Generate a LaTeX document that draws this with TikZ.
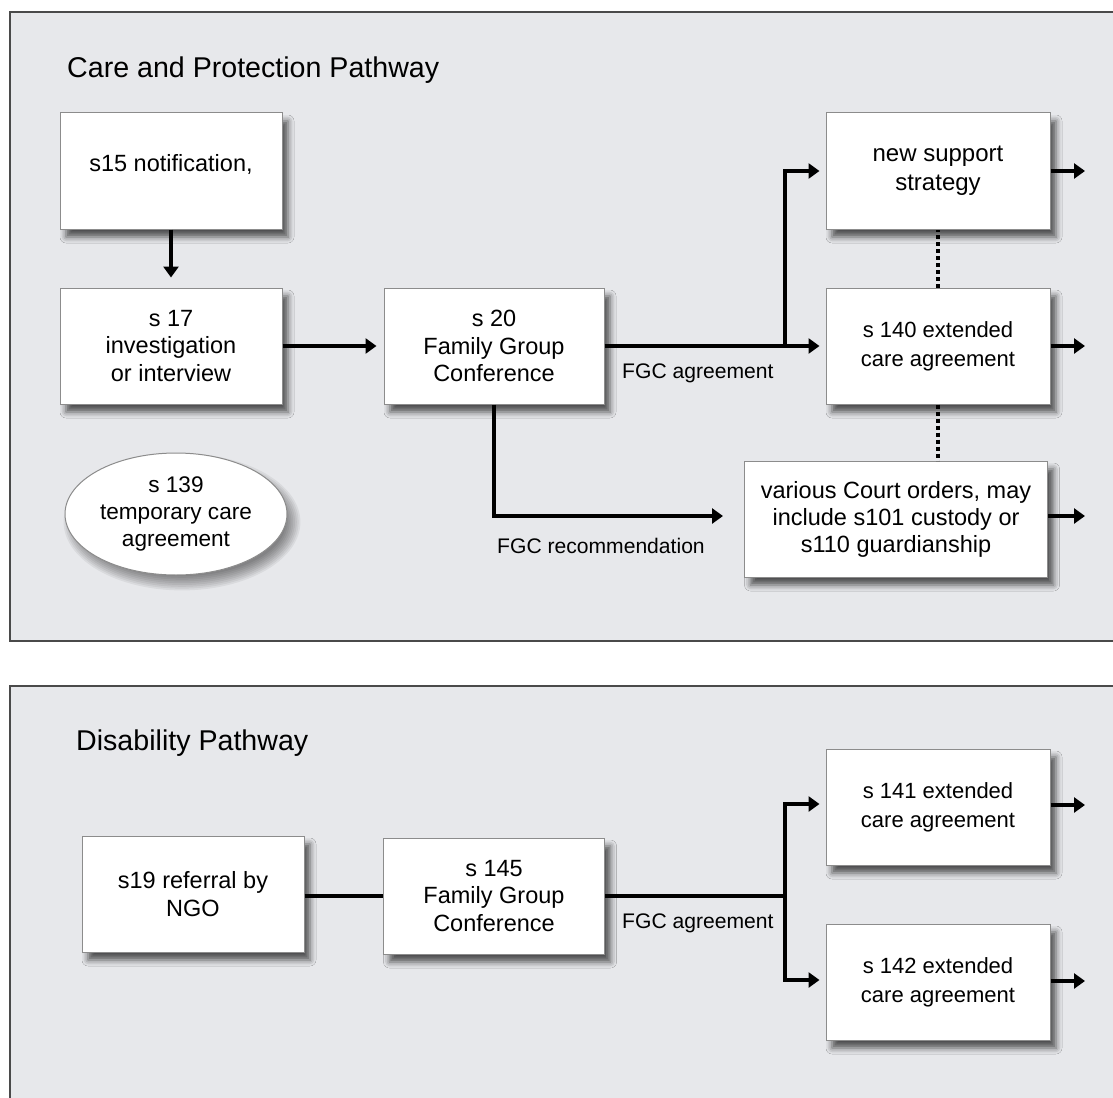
\documentclass[tikz,border=0pt]{standalone}
\usepackage{fontspec}
\setmainfont{Liberation Sans}
\usetikzlibrary{arrows.meta,shapes.geometric,shadows.blur,calc}
\definecolor{panelbg}{HTML}{E7E8EB}
\definecolor{panelborder}{HTML}{4A4A4A}
\definecolor{boxborder}{HTML}{8C8C8C}
\begin{document}
\begin{tikzpicture}[x=1pt,y=-1pt,
  boxshadow/.style={blur shadow={shadow xshift=6pt, shadow yshift=-8pt, shadow blur radius=6pt, shadow opacity=65}},
  box/.style={draw=boxborder, line width=1pt, fill=white, inner sep=0pt,
    minimum width=222pt, minimum height=116pt, align=center,
    font=\fontsize{23.5}{27.5}\selectfont, boxshadow},
  rbox/.style={box, minimum width=224pt, font=\fontsize{22}{29}\selectfont},
  oval/.style={ellipse, draw=boxborder, line width=1pt, fill=white, inner sep=0pt,
    minimum width=222pt, minimum height=122pt, align=center,
    font=\fontsize{22.6}{27}\selectfont},
  conn/.style={line width=3.5pt, -{Triangle[length=11pt,width=15pt]}},
  plainline/.style={line width=3.5pt},
  dotline/.style={line width=4.5pt, dash pattern=on 4pt off 3pt},
  lbl/.style={font=\fontsize{21.1}{26}\selectfont, inner sep=0pt},
  ttl/.style={font=\fontsize{28.6}{34}\selectfont, inner sep=0pt, anchor=base west}
]
\useasboundingbox (0,0) rectangle (1113,1097);
\fill[white] (0,0) rectangle (1113,1097);
\begin{scope}
\clip (0,0) rectangle (1113,1097);
% panels
\fill[panelbg] (10,12) rectangle (1140,641);
\draw[panelborder, line width=2pt] (1140,12) -- (10,12) -- (10,641) -- (1140,641);
\fill[panelbg] (10,686) rectangle (1140,1120);
\draw[panelborder, line width=2pt] (1140,686) -- (10,686) -- (10,1120);
\end{scope}

% titles
\node[ttl] (t1) at (67,78) {Care and Protection Pathway};
\node[ttl] (t2) at (76,750) {Disability Pathway};

% soft shadow of the ellipse
\foreach \k in {0,...,8}
  \fill[black, opacity=0.06] (182,522) ellipse ({104+1.8*\k} and {54+1.8*\k});

% top panel nodes
\node[box, text height=11pt, text depth=11pt] (s15) at (171,171) {s15 notification,};
\node[box] (s17) at (171,346) {s 17\\investigation\\or interview};
\node[box, minimum width=220pt] (s20) at (494,346) {s 20\\Family Group\\Conference};
\node[rbox, font=\fontsize{24}{29}\selectfont] (nss) at (938,171) {new support\\strategy};
\node[rbox] (s140) at (938,346) {s 140 extended\\care agreement};
\node[box, minimum width=303pt, font=\fontsize{23.5}{27}\selectfont] (court) at (896,519) {various Court orders, may\\include s101 custody or\\s110 guardianship};
\node[oval] (s139) at (176,514) {s 139\\temporary care\\agreement};

% top panel connectors
\draw[conn] (s15.south) -- ($(s17.north)+(0,-10)$);
\draw[conn] (s17.east) -- ($(s20.west)+(-7,0)$);
\draw[conn] (s20.east) -- ($(s140.west)+(-6,0)$);
\coordinate (br1) at (785,346);
\draw[conn] (br1) |- ($(nss.west)+(-6,0)$);
\coordinate (rec) at (723,516);
\draw[conn] (s20.south) |- (rec);
\draw[dotline] (s140.north) -- (nss.south);
\draw[dotline] (s140.south) -- (s140.south |- court.north);
\coordinate (o1) at (1085,171);
\coordinate (o2) at (1085,346);
\coordinate (o3) at (1085,516);
\draw[conn] (nss.east) -- (o1);
\draw[conn] (s140.east) -- (o2);
\draw[conn] (court.east |- o3) -- (o3);
\node[lbl, anchor=west] (l1) at (622,373) {FGC agreement};
\node[lbl, anchor=west] (l2) at (497,546) {FGC recommendation};

% bottom panel nodes
\node[box] (s19) at (193,894) {s19 referral by\\NGO};
\node[box, minimum width=221pt] (s145) at (494,896) {s 145\\Family Group\\Conference};
\node[rbox] (s141) at (938,807) {s 141 extended\\care agreement};
\node[rbox] (s142) at (938,982) {s 142 extended\\care agreement};

% bottom connectors
\draw[plainline] (s19.east |- s145.west) -- (s145.west);
\coordinate (br2) at (785,896);
\draw[plainline] (s145.east) -- (br2);
\draw[conn] ($(br2)+(0,1.75)$) |- ($(s141.west)+(-6,-3)$);
\draw[conn] ($(br2)+(0,-1.75)$) |- ($(s142.west)+(-6,-2)$);
\coordinate (o4) at (1085,805);
\coordinate (o5) at (1085,981);
\draw[conn] (s141.east |- o4) -- (o4);
\draw[conn] (s142.east |- o5) -- (o5);
\node[lbl, anchor=west] (l3) at (622,923) {FGC agreement};
\end{tikzpicture}
\end{document}
